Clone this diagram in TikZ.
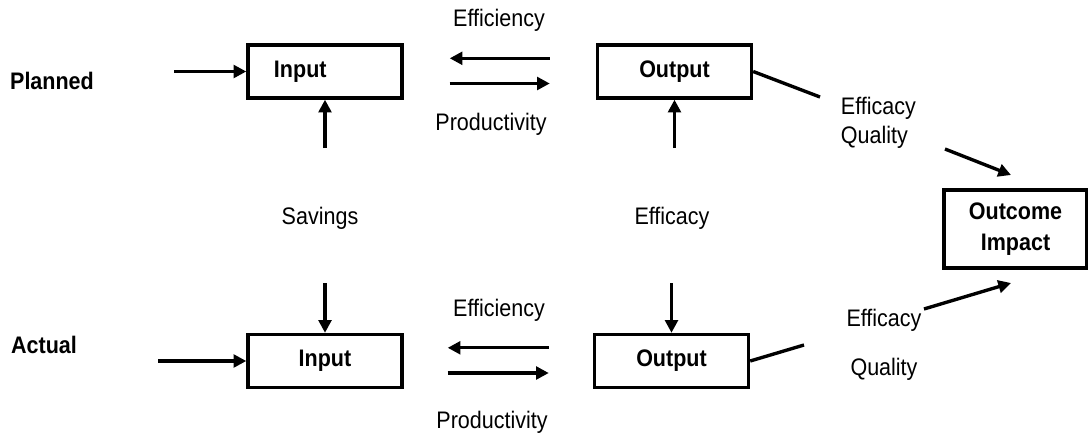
\documentclass[tikz,border=0pt]{standalone}
\usepackage{fontspec}
\setmainfont{Liberation Sans}[FakeStretch=0.9]
\usetikzlibrary{arrows.meta}

\begin{document}
\begin{tikzpicture}[x=0.025cm,y=-0.025cm,
  every node/.style={font=\fontsize{17}{21}\selectfont},
  box/.style={draw,line width=2.4pt,minimum width=3.85cm,minimum height=1.325cm,font=\fontsize{17}{22}\selectfont\bfseries},
  arr/.style={line width=2.4pt,-{Triangle[length=9pt,width=9pt]}},
  link/.style={line width=2.4pt}]
\useasboundingbox (0,0) rectangle (1088,435);
% rows
\node[font=\fontsize{17}{21}\selectfont\bfseries] (planned) at (52,81) {Planned};
\node[font=\fontsize{17}{21}\selectfont\bfseries] (actual) at (44,345) {Actual};
\node[box,text width=2.55cm,align=left] (inP) at (325,71.5) {Input};
\node[box] (outP) at (674.5,71.5) {Output};
\node[box] (inA) at (325,361) {Input};
\node[box] (outA) at (671.5,361) {Output};
\node[box,minimum width=3.575cm,minimum height=1.95cm,align=center] (outcome) at (1015.5,229) {Outcome\\Impact};
% labels
\node (effP) at (499,20) {Efficiency};
\node (prodP) at (491,124) {Productivity};
\node (effA) at (499,310) {Efficiency};
\node (prodA) at (492,422) {Productivity};
\node (savings) at (320,218) {Savings};
\node (efficacy) at (672,218) {Efficacy};
\node[anchor=west,align=left] (eqP) at (836,123) {Efficacy\\Quality};
\node (efA) at (884,320) {Efficacy};
\node (qualA) at (884,369) {Quality};
% free ends
\coordinate (planIn) at (174,71.5);
\coordinate (actIn) at (158,361);
\coordinate (savUp) at (325,148);
\coordinate (savDn) at (325,283);
\coordinate (effUp) at (674.5,148);
\coordinate (effDn) at (671.5,283);
\coordinate (brkP1) at (820,97);
\coordinate (brkP2) at (945,149);
\coordinate (tipP) at (1011,175);
\coordinate (brkA1) at (804,345);
\coordinate (brkA2) at (924,309);
\coordinate (tipA) at (1011,283);
% arrows
\draw[arr] (planIn) -- (inP.west);
\draw[arr] (actIn) -- (inA.west);
\draw[arr] (savUp) -- (inP.south);
\draw[arr] (savDn) -- (inA.north);
\draw[arr] (effUp) -- (outP.south);
\draw[arr] (effDn) -- (outA.north);
\draw[arr,shorten <=1.15cm,shorten >=1.15cm] ([yshift=0.33cm]outP.west) -- ([yshift=0.33cm]inP.east);
\draw[arr,shorten <=1.15cm,shorten >=1.15cm] ([yshift=-0.3cm]inP.east) -- ([yshift=-0.3cm]outP.west);
\draw[arr,shorten <=1.1cm,shorten >=1.1cm] ([yshift=0.33cm]outA.west) -- ([yshift=0.33cm]inA.east);
\draw[arr,shorten <=1.1cm,shorten >=1.1cm] ([yshift=-0.3cm]inA.east) -- ([yshift=-0.3cm]outA.west);
\draw[link] (outP.east) -- (brkP1);
\draw[arr] (brkP2) -- (tipP);
\draw[link] (outA.east) -- (brkA1);
\draw[arr] (brkA2) -- (tipA);
\end{tikzpicture}
\end{document}
